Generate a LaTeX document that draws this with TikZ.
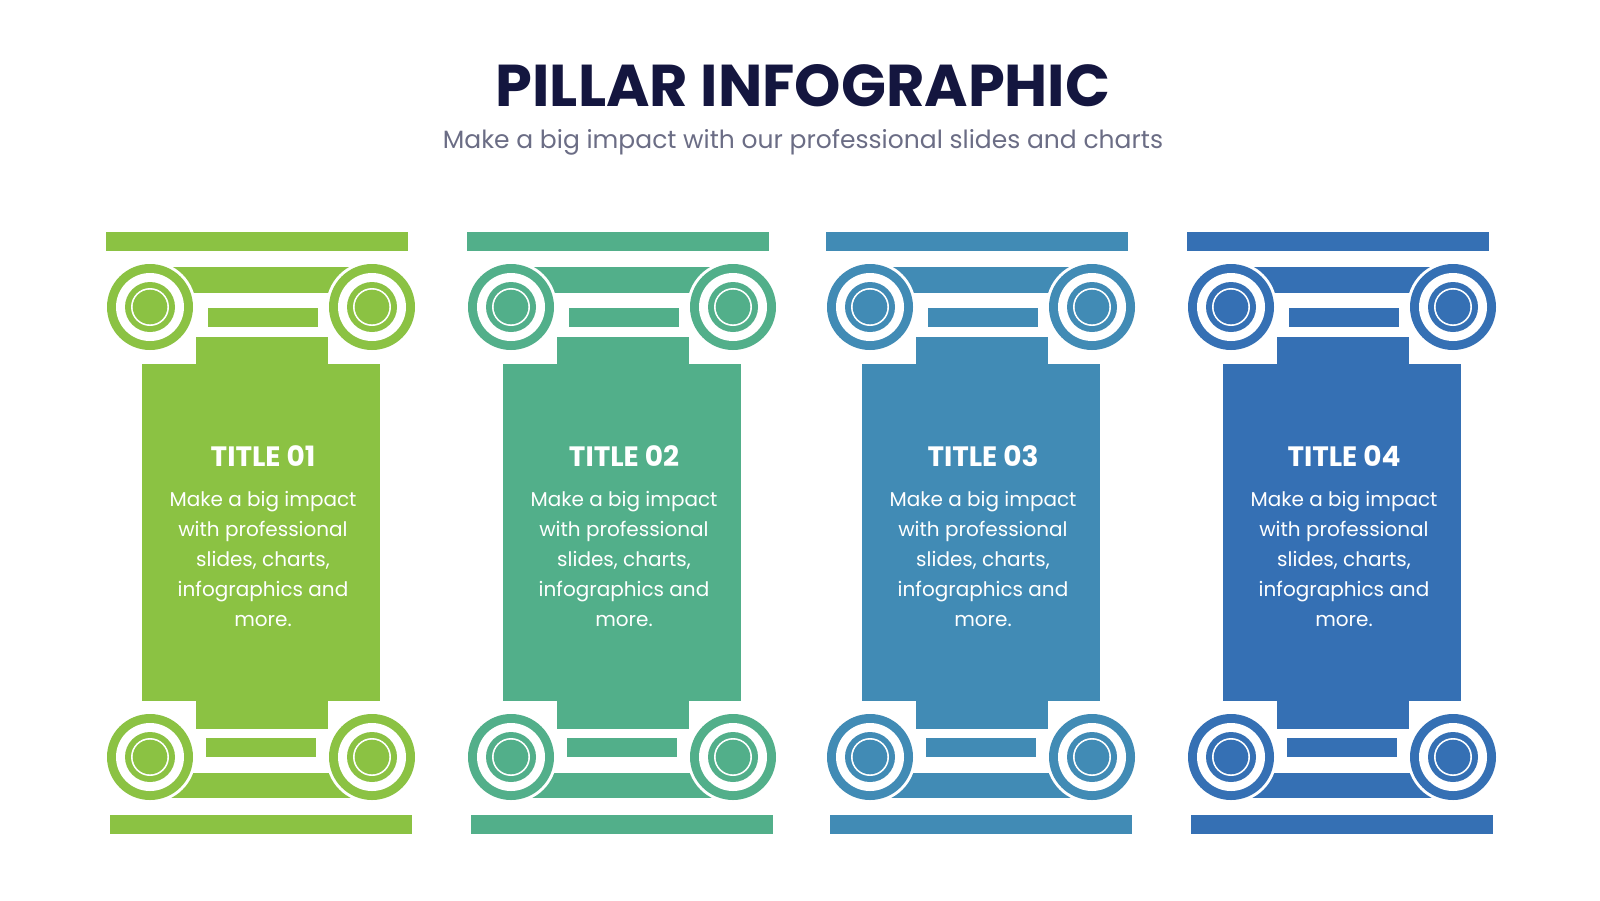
\documentclass[tikz,border=0pt]{standalone}
\usepackage{fontspec}
\setmainfont{Poppins}
\definecolor{cA}{HTML}{8BC243}
\definecolor{cB}{HTML}{52AF8A}
\definecolor{cC}{HTML}{418BB5}
\definecolor{cD}{HTML}{3570B4}
\definecolor{navy}{HTML}{14163F}
\definecolor{subg}{HTML}{6B6D85}
\tikzset{
  ttl/.style={font=\bfseries\fontsize{29.5}{32}\selectfont, text=navy},
  sub/.style={font=\fontsize{12.5}{15}\selectfont, text=subg},
  ptitle/.style={font=\bfseries\fontsize{14}{16}\selectfont, text=white},
  pbody/.style={font=\fontsize{10}{15}\selectfont, text=white, align=center},
}
\newcommand{\volute}[3]{%
  \fill[white] (#1,#2) circle (46);
  \fill[#3] (#1,#2) circle (43);
  \fill[white] (#1,#2) circle (34);
  \fill[#3] (#1,#2) circle (25);
  \fill[white] (#1,#2) circle (19);
  \fill[#3] (#1,#2) circle (17.3);
}
\newcommand{\pillar}[4]{%
  \begin{scope}[shift={(#1,0)}]
  \fill[#2] (-155,232) rectangle (147,251);
  \fill[#2] (-90,267) rectangle (90,293);
  \fill[#2] (-53,308) rectangle (57,327);
  \volute{-111}{307}{#2}\volute{111}{307}{#2}
  \fill[#2] (-65,337) rectangle (67,729);
  \fill[#2] (-119,364) rectangle (119,701);
  \fill[#2] (-90,773) rectangle (90,798);
  \fill[#2] (-55,738) rectangle (55,757);
  \volute{-111}{757}{#2}\volute{111}{757}{#2}
  \fill[#2] (-151,815) rectangle (151,834);
  \node[ptitle] (t#3) at (2,456) {TITLE 0#3};
  \node[pbody, anchor=north] (b#3) at (2,484) {Make a big impact\\with professional\\slides, charts,\\infographics and\\more.};
  \end{scope}}
\begin{document}
\begin{tikzpicture}[x=0.5pt,y=-0.5pt]
\useasboundingbox (0,0) rectangle (1600,900);
\node[ttl] (title) at (803,86) {PILLAR INFOGRAPHIC};
\node[sub] (subtitle) at (803,142) {Make a big impact with our professional slides and charts};
\pillar{261}{cA}{1}{}
\pillar{622}{cB}{2}{}
\pillar{981}{cC}{3}{}
\pillar{1342}{cD}{4}{}
\end{tikzpicture}
\end{document}
